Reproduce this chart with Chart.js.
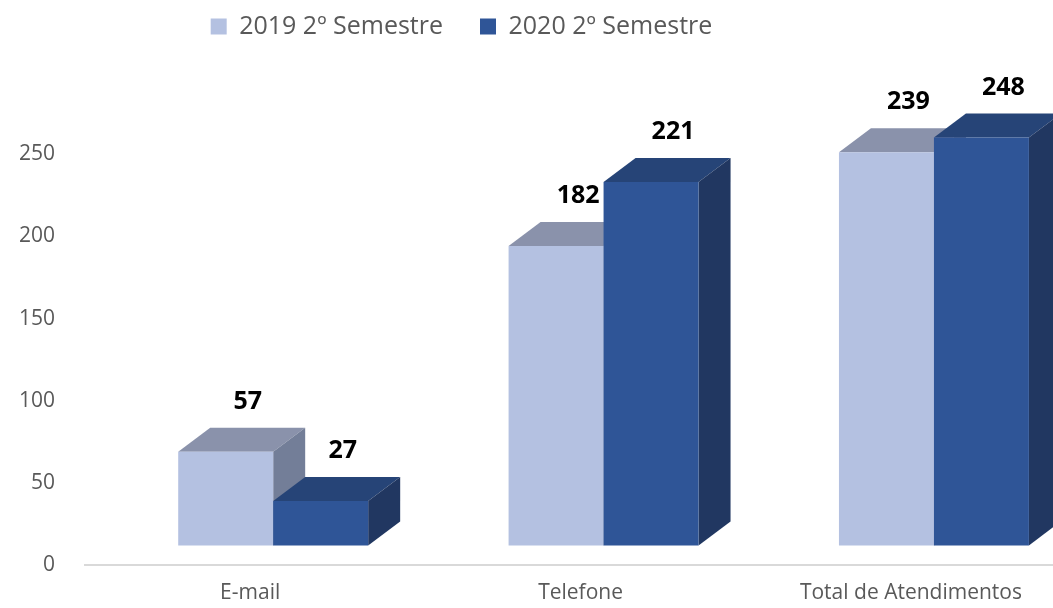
<!DOCTYPE html>
<html>
<head>
<meta charset="utf-8">
<script src="https://cdn.jsdelivr.net/npm/chart.js@4/dist/chart.umd.min.js"></script>
<style>
  body { margin: 0; background: #ffffff; }
</style>
</head>
<body>
<canvas id="atendimentos_grafica" width="1053" height="608"></canvas>
<script>
const categorias = ['E-mail', 'Telefone', 'Total de Atendimentos'];
const nomes_series = ['2019 2º Semestre', '2020 2º Semestre'];
const valores_2019 = [57, 182, 239];
const valores_2020 = [27, 221, 248];
const ticks_y = [0, 50, 100, 150, 200, 250];

// cores: frente, topo, lado
const cores_2019 = ['#B4C1E1', '#8A92AB', '#737E98'];
const cores_2020 = ['#2F5597', '#264477', '#213761'];

// deslocamento da face frontal e profundidade do "3D"
const desloc = { x: 23, y: -20 };
const prof = { x: 32, y: -24 };

function poligono(ctx, pts, cor) {
    ctx.beginPath();
    ctx.moveTo(pts[0][0], pts[0][1]);
    for (let i = 1; i < pts.length; i++) ctx.lineTo(pts[i][0], pts[i][1]);
    ctx.closePath();
    ctx.fillStyle = cor;
    ctx.fill();
}

const barras_3d = {
    id: 'barras_3d',
    afterLayout(chart) {
        // legenda fica um pouco à esquerda e acima, como no original
        const lg = chart.legend;
        lg.left -= 65; lg.right -= 65;
        lg.top -= 23; lg.bottom -= 23;
    },
    beforeDatasetsDraw(chart) {
        const ctx = chart.ctx;
        const cores = [cores_2019, cores_2020];
        const rotulos = [];
        ctx.save();
        categorias.forEach((c, i) => {
            chart.data.datasets.forEach((ds, d) => {
                const el = chart.getDatasetMeta(d).data[i];
                const l = el.x - el.width / 2 + desloc.x;
                const r = el.x + el.width / 2 + desloc.x;
                const t = el.y + desloc.y;
                const b = el.base + desloc.y;
                const cor = cores[d];
                // topo
                poligono(ctx, [[l, t], [r, t], [r + prof.x, t + prof.y], [l + prof.x, t + prof.y]], cor[1]);
                // lado
                poligono(ctx, [[r, t], [r + prof.x, t + prof.y], [r + prof.x, b + prof.y], [r, b]], cor[2]);
                // frente
                poligono(ctx, [[l, t], [r, t], [r, b], [l, b]], cor[0]);
                rotulos.push({ x: (l + r) / 2 + 22, y: t + prof.y - 26, txt: ds.data[i].y });
            });
        });
        ctx.font = 'bold 25px "Open Sans"';
        ctx.fillStyle = '#000000';
        ctx.textAlign = 'center';
        ctx.textBaseline = 'middle';
        rotulos.forEach(r => ctx.fillText(String(r.txt), r.x, r.y));
        ctx.restore();
        return false;
    }
};

Chart.defaults.font.family = '"Open Sans"';
Chart.defaults.color = '#595959';

const ctx1 = document.getElementById('atendimentos_grafica').getContext('2d');

new Chart(ctx1, {
    type: 'bar',
    data: {
        datasets: [
            {
                label: nomes_series[0],
                data: valores_2019.map((v, i) => ({ x: i, y: v })),
                backgroundColor: cores_2019[0],
                borderWidth: 0
            },
            {
                label: nomes_series[1],
                data: valores_2020.map((v, i) => ({ x: i, y: v })),
                backgroundColor: cores_2020[0],
                borderWidth: 0
            }
        ]
    },
    options: {
        responsive: false,
        animation: false,
        categoryPercentage: 0.575,
        barPercentage: 1,
        layout: { padding: 0 },
        scales: {
            x: {
                type: 'linear',
                offset: false,
                min: -0.5,
                max: 2.43,
                afterBuildTicks: (s) => { s.ticks = categorias.map((c, i) => ({ value: i })); },
                afterFit: (s) => { s.height = 40; },
                ticks: {
                    callback: (v) => categorias[v] ?? '',
                    autoSkip: false,
                    maxRotation: 0,
                    padding: 15,
                    font: { size: 21 },
                    color: '#595959'
                },
                grid: { display: false, drawTicks: false, offset: false },
                border: { display: true, color: '#D9D9D9', width: 2 }
            },
            y: {
                min: 0,
                max: 300,
                afterBuildTicks: (s) => { s.ticks = ticks_y.map(v => ({ value: v })); },
                afterFit: (s) => { s.width = 85; },
                ticks: {
                    padding: 30,
                    font: { size: 21 },
                    color: '#595959'
                },
                grid: { display: false, drawTicks: false },
                border: { display: false }
            }
        },
        plugins: {
            legend: {
                position: 'top',
                labels: {
                    boxWidth: 16,
                    boxHeight: 16,
                    padding: 37,
                    font: { size: 25 },
                    color: '#595959'
                }
            },
            tooltip: { enabled: false }
        }
    },
    plugins: [barras_3d]
});
</script>
</body>
</html>
